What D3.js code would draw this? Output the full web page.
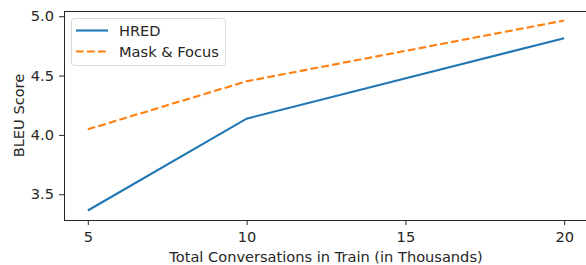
<!DOCTYPE html>
<html>
<head>
<meta charset="utf-8">
<script src="https://cdn.jsdelivr.net/npm/d3@7"></script>
<style>
  body { margin: 0; background: #fff; overflow: hidden; }
  svg { display: block; font-family: "DejaVu Sans", sans-serif; }
</style>
</head>
<body>
<svg id="chart" width="586" height="265"></svg>
<script>
// data
const conversations = [5, 10, 20];
const hredScores = [3.363, 4.137, 4.815];
const maskFocusScores = [4.047, 4.452, 4.964];
const xTicks = [5, 10, 15, 20];
const yTicks = [3.5, 4.0, 4.5, 5.0];
const seriesNames = ['HRED', 'Mask & Focus'];

const width = 586;
const height = 265;
// the original figure is cropped just before its right spine
const margin = { top: 11, right: -2, bottom: 45, left: 64 };
const textColor = '#262626';
const fontSize = '14.6px';

const svg = d3.select('#chart');

// matplotlib-like 5% padding
const xExt = d3.extent(conversations);
const xPad = (xExt[1] - xExt[0]) * 0.05;
const allY = hredScores.concat(maskFocusScores);
const yExt = d3.extent(allY);
const yPad = (yExt[1] - yExt[0]) * 0.05;

const x = d3.scaleLinear()
  .domain([xExt[0] - xPad, xExt[1] + xPad])
  .range([margin.left, width - margin.right]);

const y = d3.scaleLinear()
  .domain([yExt[0] - yPad, yExt[1] + yPad])
  .range([height - margin.bottom, margin.top]);

// axes
const xAxis = svg.append('g')
  .attr('transform', `translate(0,${height - margin.bottom})`)
  .call(d3.axisBottom(x).tickValues(xTicks).tickSize(5).tickPadding(7).tickFormat(d3.format('d')));

const yAxis = svg.append('g')
  .attr('transform', `translate(${margin.left},0)`)
  .call(d3.axisLeft(y).tickValues(yTicks).tickSize(5).tickPadding(5).tickFormat(d3.format('.1f')));

[xAxis, yAxis].forEach(a => {
  a.select('.domain').remove();
  a.selectAll('line').attr('stroke', textColor).attr('stroke-width', 1);
  a.selectAll('text').attr('fill', textColor).style('font-size', fontSize).style('font-family', '"DejaVu Sans", sans-serif');
});

// frame
svg.append('rect')
  .attr('x', margin.left + 0.5)
  .attr('y', margin.top + 0.5)
  .attr('width', width - margin.right - margin.left)
  .attr('height', height - margin.bottom - margin.top)
  .attr('fill', 'none')
  .attr('stroke', textColor)
  .attr('stroke-width', 1);

// lines
const line = d3.line()
  .x((d, i) => x(conversations[i]))
  .y(d => y(d));

svg.append('path')
  .datum(hredScores)
  .attr('fill', 'none')
  .attr('stroke', '#1f77b4')
  .attr('stroke-width', 2.1)
  .attr('d', line);

svg.append('path')
  .datum(maskFocusScores)
  .attr('fill', 'none')
  .attr('stroke', '#ff7f0e')
  .attr('stroke-width', 2.1)
  .attr('stroke-dasharray', '7.7,3.3')
  .attr('d', line);

// labels
svg.append('text')
  .attr('x', (margin.left + width - margin.right) / 2)
  .attr('y', 262)
  .attr('text-anchor', 'middle')
  .attr('fill', textColor)
  .style('font-size', fontSize)
  .text('Total Conversations in Train (in Thousands)');

svg.append('text')
  .attr('transform', `translate(23.5,${(margin.top + height - margin.bottom) / 2}) rotate(-90)`)
  .attr('text-anchor', 'middle')
  .attr('fill', textColor)
  .style('font-size', fontSize)
  .text('BLEU Score');

// legend
const legend = svg.append('g');
legend.append('rect')
  .attr('x', 71.5)
  .attr('y', 18.5)
  .attr('width', 154)
  .attr('height', 47)
  .attr('rx', 3)
  .attr('fill', '#fff')
  .attr('fill-opacity', 0.8)
  .attr('stroke', '#d9d9d9');

const legendStyles = [
  { color: '#1f77b4', dash: null },
  { color: '#ff7f0e', dash: '7.7,3.3' }
];

seriesNames.forEach((name, i) => {
  const cy = 30.5 + i * 21;
  legend.append('line')
    .attr('x1', 76)
    .attr('x2', 108)
    .attr('y1', cy)
    .attr('y2', cy)
    .attr('stroke', legendStyles[i].color)
    .attr('stroke-width', 2.1)
    .attr('stroke-dasharray', legendStyles[i].dash);
  legend.append('text')
    .attr('x', 119)
    .attr('y', cy + 5.3)
    .attr('fill', textColor)
    .style('font-size', fontSize)
    .text(name);
});
</script>
</body>
</html>
